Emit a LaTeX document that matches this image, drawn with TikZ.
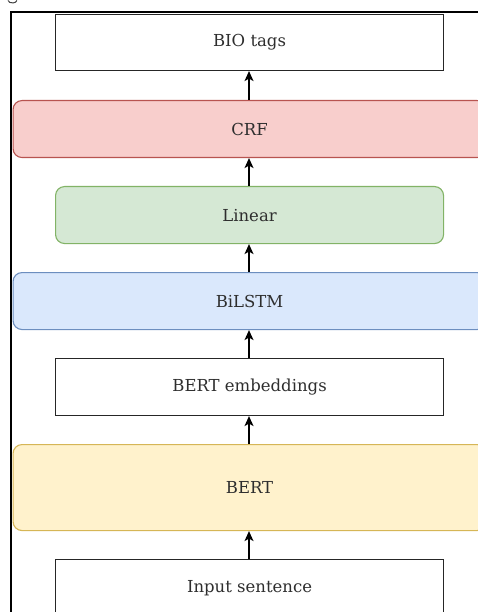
\documentclass[tikz,border=0pt]{standalone}
\usepackage{fontspec}
\setmainfont{DejaVu Serif}
\usetikzlibrary{arrows.meta}
\begin{document}
\begin{tikzpicture}[x=1pt,y=-1pt,
  layer/.style={draw, line width=1.1pt, minimum height=57pt, font=\fontsize{16.5}{19}\selectfont, text=black!82, inner sep=0pt, anchor=north west},
  plainbox/.style={layer, fill=white, draw=black!85, minimum width=388pt},
  widebox/.style={layer, rounded corners=9pt, minimum width=473pt},
  flow/.style={draw=black, line width=1.3pt, -{Stealth[length=10pt,width=9pt,inset=2.5pt]}}]
  \definecolor{crffill}{HTML}{F8CECC}\definecolor{crfline}{HTML}{B85450}
  \definecolor{linfill}{HTML}{D5E8D4}\definecolor{linline}{HTML}{82B366}
  \definecolor{lstmfill}{HTML}{DAE8FC}\definecolor{lstmline}{HTML}{6C8EBF}
  \definecolor{bertfill}{HTML}{FFF2CC}\definecolor{bertline}{HTML}{D6B656}
  \useasboundingbox (0,0) rectangle (478,612);
  \begin{scope}
    \clip (0,0) rectangle (478,612);
    % stray stroke above the frame
    \draw[line width=1pt, black!75] (8,0.5) arc[start angle=190, end angle=350, x radius=4.5pt, y radius=3pt];
    % outer frame
    \draw[line width=1.8pt] (11,640) -- (11,12) -- (500,12);
    % layers, bottom to top
    \node[plainbox] (input) at (55,559) {Input sentence};
    \node[widebox, fill=bertfill, draw=bertline, minimum height=86pt] (bert) at (12.5,444) {BERT};
    \node[plainbox] (emb) at (55,358) {BERT embeddings};
    \node[widebox, fill=lstmfill, draw=lstmline] (bilstm) at (12.5,272) {BiLSTM};
    \node[widebox, fill=linfill, draw=linline, minimum width=388pt] (linear) at (55,186) {Linear};
    \node[widebox, fill=crffill, draw=crfline] (crf) at (12.5,100) {CRF};
    \node[plainbox, minimum height=56pt] (bio) at (55,14) {BIO tags};
    % connectors
    \draw[flow] (input.north -| 249,0) -- (bert.south -| 249,0);
    \draw[flow] (bert.north -| 249,0) -- (emb.south -| 249,0);
    \draw[flow] (emb.north -| 249,0) -- (bilstm.south -| 249,0);
    \draw[flow] (bilstm.north -| 249,0) -- (linear.south -| 249,0);
    \draw[flow] (linear.north -| 249,0) -- (crf.south -| 249,0);
    \draw[flow] (crf.north -| 249,0) -- (bio.south -| 249,0);
  \end{scope}
\end{tikzpicture}
\end{document}
